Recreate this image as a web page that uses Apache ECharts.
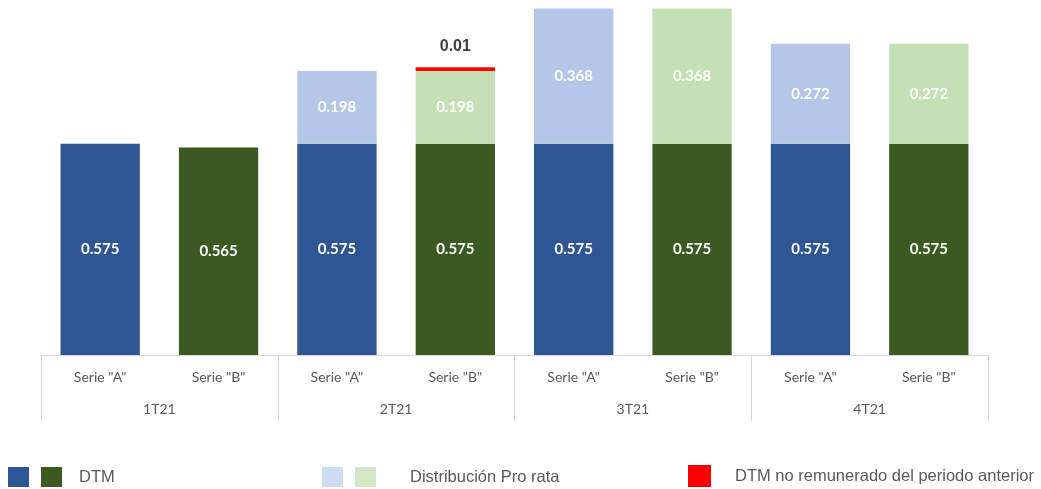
<!DOCTYPE html>
<html>
<head>
<meta charset="utf-8">
<script src="https://cdn.jsdelivr.net/npm/echarts@6/dist/echarts.min.js"></script>
<style>
  html, body { margin: 0; padding: 0; background: #fff; }
  #chart { width: 1041px; height: 489px; }
</style>
</head>
<body>
<div id="chart"></div>
<script>
// categorias
var quarters = ["1T21", "2T21", "3T21", "4T21"];
var serieLabels = ['Serie "A"', 'Serie "B"'];
// valores por trimestre
var dtmA = [0.575, 0.575, 0.575, 0.575];
var dtmB = [0.565, 0.575, 0.575, 0.575];
var proRataA = [null, 0.198, 0.368, 0.272];
var proRataB = [null, 0.198, 0.368, 0.272];
var noRemuneradoB = [null, 0.01, null, null];

var cats = [];
quarters.forEach(function () { cats.push(serieLabels[0], serieLabels[1]); });

// reparte un array de trimestre en las 8 columnas (A = par, B = impar)
function spread(arr, isB) {
  var out = [];
  arr.forEach(function (v) {
    if (isB) { out.push("-", v == null ? "-" : v); }
    else { out.push(v == null ? "-" : v); out.push("-"); }
  });
  return out;
}

var insideLabel = {
  show: true,
  position: "inside",
  color: "#fff",
  fontWeight: "bold",
  fontSize: 15,
  fontFamily: "Lato"
};

var legendText = { color: "#595959", fontSize: 16.5, fontFamily: "Liberation Sans" };

var chart = echarts.init(document.getElementById("chart"));
var option = {
  animation: false,
  grid: { left: 41, right: 53, top: 6, bottom: 134 },
  xAxis: [
    {
      type: "category",
      data: cats,
      axisLine: { show: true, lineStyle: { color: "#d9d9d9", width: 1 } },
      axisTick: { show: false },
      axisLabel: { color: "#595959", fontSize: 14, fontFamily: "Lato", margin: 15 }
    },
    {
      type: "category",
      data: quarters,
      position: "bottom",
      axisLine: { show: false },
      axisTick: { show: true, length: 66, lineStyle: { color: "#d9d9d9" } },
      axisLabel: { color: "#595959", fontSize: 14, fontFamily: "Lato", margin: 47 }
    }
  ],
  yAxis: { type: "value", min: 0, max: 0.95, show: false, splitLine: { show: false } },
  legend: [
    {
      left: 3, bottom: -3, icon: "rect", itemWidth: 21, itemHeight: 20, itemGap: 12,
      selectedMode: false,
      textStyle: Object.assign({ padding: [0, 0, 0, 12] }, legendText),
      data: [
        { name: "DTM A", itemStyle: { color: "#2E5594" } },
        { name: "DTM", itemStyle: { color: "#3A5A22" } }
      ],
      formatter: function (n) { return n === "DTM A" ? "" : n; }
    },
    {
      left: 317, bottom: -3, icon: "rect", itemWidth: 21, itemHeight: 20, itemGap: 12,
      selectedMode: false,
      textStyle: Object.assign({ padding: [0, 0, 0, 29] }, legendText),
      data: [
        { name: "Pro rata A", itemStyle: { color: "#CADDF1" } },
        { name: "Distribución Pro rata", itemStyle: { color: "#D3E7C7" } }
      ],
      formatter: function (n) { return n === "Pro rata A" ? "" : n; }
    },
    {
      left: 683, bottom: -3, icon: "rect", itemWidth: 21, itemHeight: 20,
      selectedMode: false,
      textStyle: Object.assign({ padding: [0, 0, 0, 20] }, legendText),
      data: [{ name: "DTM no remunerado del periodo anterior", itemStyle: { color: "#FF0000" } }]
    }
  ],
  series: [
    {
      name: "DTM A", type: "bar", stack: "total", barWidth: "67%",
      itemStyle: { color: "#2E5594" }, label: insideLabel,
      data: spread(dtmA, false)
    },
    {
      name: "DTM", type: "bar", stack: "total", barWidth: "67%",
      itemStyle: { color: "#3A5A22" }, label: insideLabel,
      data: spread(dtmB, true)
    },
    {
      name: "Pro rata A", type: "bar", stack: "total", barWidth: "67%",
      itemStyle: { color: "#B4C7E7" }, label: insideLabel,
      data: spread(proRataA, false)
    },
    {
      name: "Distribución Pro rata", type: "bar", stack: "total", barWidth: "67%",
      itemStyle: { color: "#C5E0B4" }, label: insideLabel,
      data: spread(proRataB, true)
    },
    {
      name: "DTM no remunerado del periodo anterior", type: "bar", stack: "total", barWidth: "67%",
      itemStyle: { color: "#FF0000", borderColor: "#FF0000", borderWidth: 3 },
      label: {
        show: true, position: "top", distance: 13,
        color: "#404040", fontWeight: "bold", fontSize: 16, fontFamily: "Liberation Sans"
      },
      data: spread(noRemuneradoB, true)
    }
  ]
};
chart.setOption(option);
</script>
</body>
</html>
